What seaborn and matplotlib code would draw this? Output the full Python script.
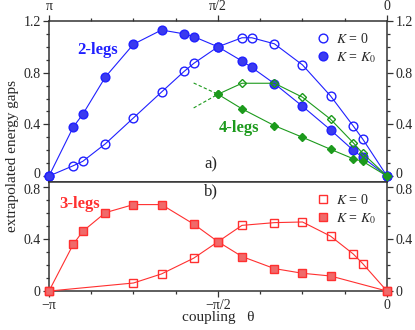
import numpy as np
import matplotlib
matplotlib.use("Agg")
import matplotlib.pyplot as plt
import matplotlib.transforms as mtransforms
import seaborn as sns
from matplotlib.lines import Line2D
from matplotlib.ticker import MultipleLocator

# --------------------------------------------------------------------------- #
# Data (theta in units of pi)
# --------------------------------------------------------------------------- #
theta_2 = [-1, -0.928, -0.9, -0.833, -0.75, -0.667, -0.6, -0.571, -0.5,
           -0.429, -0.4, -0.333, -0.25, -0.167, -0.1, -0.072, 0]
gap2_k0 = [0, 0.38, 0.478, 0.767, 1.02, 1.13, 1.10, 1.078, 1.00,
           0.89, 0.84, 0.715, 0.54, 0.357, 0.20, 0.145, 0]
gap2_zero = [0, 0.08, 0.114, 0.25, 0.45, 0.65, 0.81, 0.873, 1.00,
             1.07, 1.07, 1.023, 0.86, 0.62, 0.388, 0.287, 0]

theta_4 = [-0.5, -0.429, -0.333, -0.25, -0.167, -0.1, -0.072, 0]
gap4_k0 = [0.633, 0.52, 0.39, 0.30, 0.207, 0.134, 0.114, 0]
gap4_zero = [0.633, 0.718, 0.718, 0.61, 0.44, 0.258, 0.176, 0]

# dashed extrapolations of the 4-leg curves
theta_4_dash = [-0.572, -0.5]
gap4_dash_up = [0.72, 0.633]
gap4_dash_down = [0.527, 0.633]

theta_3_k0 = [-1, -0.928, -0.9, -0.833, -0.75, -0.667, -0.572, -0.5,
              -0.429, -0.333, -0.25, -0.167, 0]
gap3_k0 = [0, 0.361, 0.46, 0.604, 0.666, 0.666, 0.516, 0.38,
           0.266, 0.173, 0.137, 0.116, 0]
theta_3_zero = [-1, -0.75, -0.667, -0.572, -0.5, -0.429, -0.333, -0.25,
                -0.167, -0.1, -0.072, 0]
gap3_zero = [0, 0.062, 0.132, 0.253, 0.38, 0.506, 0.527, 0.532,
             0.423, 0.286, 0.212, 0]

x_ticks = [-1, -0.5, 0]
x_top_labels = ["π", "π/2", "0"]
x_bot_labels = ["−π", "−π/2", "0"]

# --------------------------------------------------------------------------- #
# Style
# --------------------------------------------------------------------------- #
sns.set_theme(style="ticks")
plt.rcParams["font.family"] = ["Liberation Serif", "DejaVu Serif"]
plt.rcParams["mathtext.fontset"] = "stix"
plt.rcParams["font.size"] = 10

BLUE = "#2020ff"
BLUE_FILL = "#3a3aef"
GREEN = "#1c9a1c"
RED = "#ff3030"
RED_FILL = "#f06a6a"
SPINE = "#333333"

fig = plt.figure(figsize=(4.15, 3.3), dpi=100)
ax_a = fig.add_axes([0.118, 0.4485, 0.8145, 0.488])
ax_b = fig.add_axes([0.118, 0.118, 0.8145, 0.3305])


def series(ax, x, y, color, marker, ms, fill, edge, lw=0.8):
    sns.lineplot(x=x, y=y, ax=ax, sort=False, color=color, linewidth=lw,
                 marker=marker, markersize=ms, markerfacecolor=fill,
                 markeredgecolor=edge, markeredgewidth=1.0, clip_on=False,
                 zorder=3)


# panel a: 2 legs and 4 legs
series(ax_a, theta_2, gap2_zero, BLUE, "o", 6.3, "none", BLUE)
series(ax_a, theta_2, gap2_k0, BLUE, "o", 6.3, BLUE_FILL, BLUE)
sns.lineplot(x=theta_4_dash, y=gap4_dash_up, ax=ax_a, color=GREEN,
             linewidth=0.8, linestyle=(0, (3, 2)))
sns.lineplot(x=theta_4_dash, y=gap4_dash_down, ax=ax_a, color=GREEN,
             linewidth=0.8, linestyle=(0, (3, 2)))
series(ax_a, theta_4, gap4_zero, GREEN, "D", 4.3, "none", GREEN)
series(ax_a, theta_4, gap4_k0, GREEN, "D", 4.3, GREEN, GREEN)

# panel b: 3 legs
series(ax_b, theta_3_zero, gap3_zero, RED, "s", 5.2, "none", RED)
series(ax_b, theta_3_k0, gap3_k0, RED, "s", 5.2, RED_FILL, RED)

# --------------------------------------------------------------------------- #
# Axes
# --------------------------------------------------------------------------- #
for ax in (ax_a, ax_b):
    ax.set_xlim(-1, 0)
    ax.set_xticks(x_ticks)
    ax.xaxis.set_minor_locator(MultipleLocator(0.125))
    ax.yaxis.set_minor_locator(MultipleLocator(0.1))
    ax.set_xlabel("")
    ax.set_ylabel("")
    for sp in ax.spines.values():
        sp.set_visible(True)
        sp.set_color(SPINE)
        sp.set_linewidth(1.1)
    ax.tick_params(which="both", direction="out", color=SPINE, width=0.9,
                   left=True, right=True, labelleft=True, labelright=True,
                   labelsize=10, pad=2)
    ax.tick_params(which="major", length=4)
    ax.tick_params(which="minor", length=2.5)

ax_a.set_ylim(-0.046, 1.2)
ax_a.set_yticks([0, 0.4, 0.8, 1.2], labels=["0", "0.4", "0.8", "1.2"])
ax_a.set_xticks(x_ticks, labels=x_top_labels)
ax_a.tick_params(which="both", top=True, labeltop=True,
                 bottom=False, labelbottom=False)

ax_b.set_ylim(0, 0.84)
ax_b.set_yticks([0, 0.4, 0.8], labels=["0", "0.4", "0.8"])
ax_b.set_xticks(x_ticks, labels=x_bot_labels)
ax_b.tick_params(which="both", top=False, labeltop=False,
                 bottom=True, labelbottom=True)
ax_b.set_xlabel("coupling   θ", fontsize=11, labelpad=-1)

# the "0" of panel a and the "0.8" of panel b sit very close: nudge them apart
up = mtransforms.ScaledTranslation(0, 2 / 72, fig.dpi_scale_trans)
down = mtransforms.ScaledTranslation(0, -1.5 / 72, fig.dpi_scale_trans)
fig.canvas.draw()
for tick in ax_a.yaxis.get_major_ticks()[:1]:
    for lab in (tick.label1, tick.label2):
        lab.set_transform(lab.get_transform() + up)
for tick in ax_b.yaxis.get_major_ticks()[-1:]:
    for lab in (tick.label1, tick.label2):
        lab.set_transform(lab.get_transform() + down)

fig.text(0.03, 0.527, "extrapolated energy gaps", rotation=90,
         ha="center", va="center", fontsize=11)

# text labels
ax_a.text(-0.915, 0.975, "2-legs", color=BLUE, fontsize=12,
          fontweight="bold", ha="left", va="center")
ax_a.text(-0.498, 0.37, "4-legs", color=GREEN, fontsize=12,
          fontweight="bold", ha="left", va="center")
ax_b.text(-0.97, 0.67, "3-legs", color=RED, fontsize=12, fontweight="bold",
          ha="left", va="center")
ax_a.text(-0.54, 0.09, "a)", fontsize=12, ha="left", va="center")
ax_b.text(-0.54, 0.77, "b)", fontsize=12, ha="left", va="center")

# legends
leg_a = [Line2D([], [], ls="none", marker="o", ms=6.3, mfc="none", mec=BLUE,
                mew=1.0),
         Line2D([], [], ls="none", marker="o", ms=6.3, mfc=BLUE_FILL,
                mec=BLUE, mew=1.0)]
ax_a.legend(leg_a, [r"$K$ = 0", r"$K$ = $K_\mathit{0}$"], loc="upper right",
            frameon=False, fontsize=10, handlelength=1.0, handletextpad=0.4,
            labelspacing=0.3, borderaxespad=0.4)
leg_b = [Line2D([], [], ls="none", marker="s", ms=5.2, mfc="none", mec=RED,
                mew=1.0),
         Line2D([], [], ls="none", marker="s", ms=5.2, mfc=RED_FILL, mec=RED,
                mew=1.0)]
ax_b.legend(leg_b, [r"$K$ = 0", r"$K$ = $K_\mathit{0}$"], loc="upper right",
            frameon=False, fontsize=10, handlelength=1.0, handletextpad=0.4,
            labelspacing=0.3, borderaxespad=0.4)

fig.savefig("out.png", dpi=100)
